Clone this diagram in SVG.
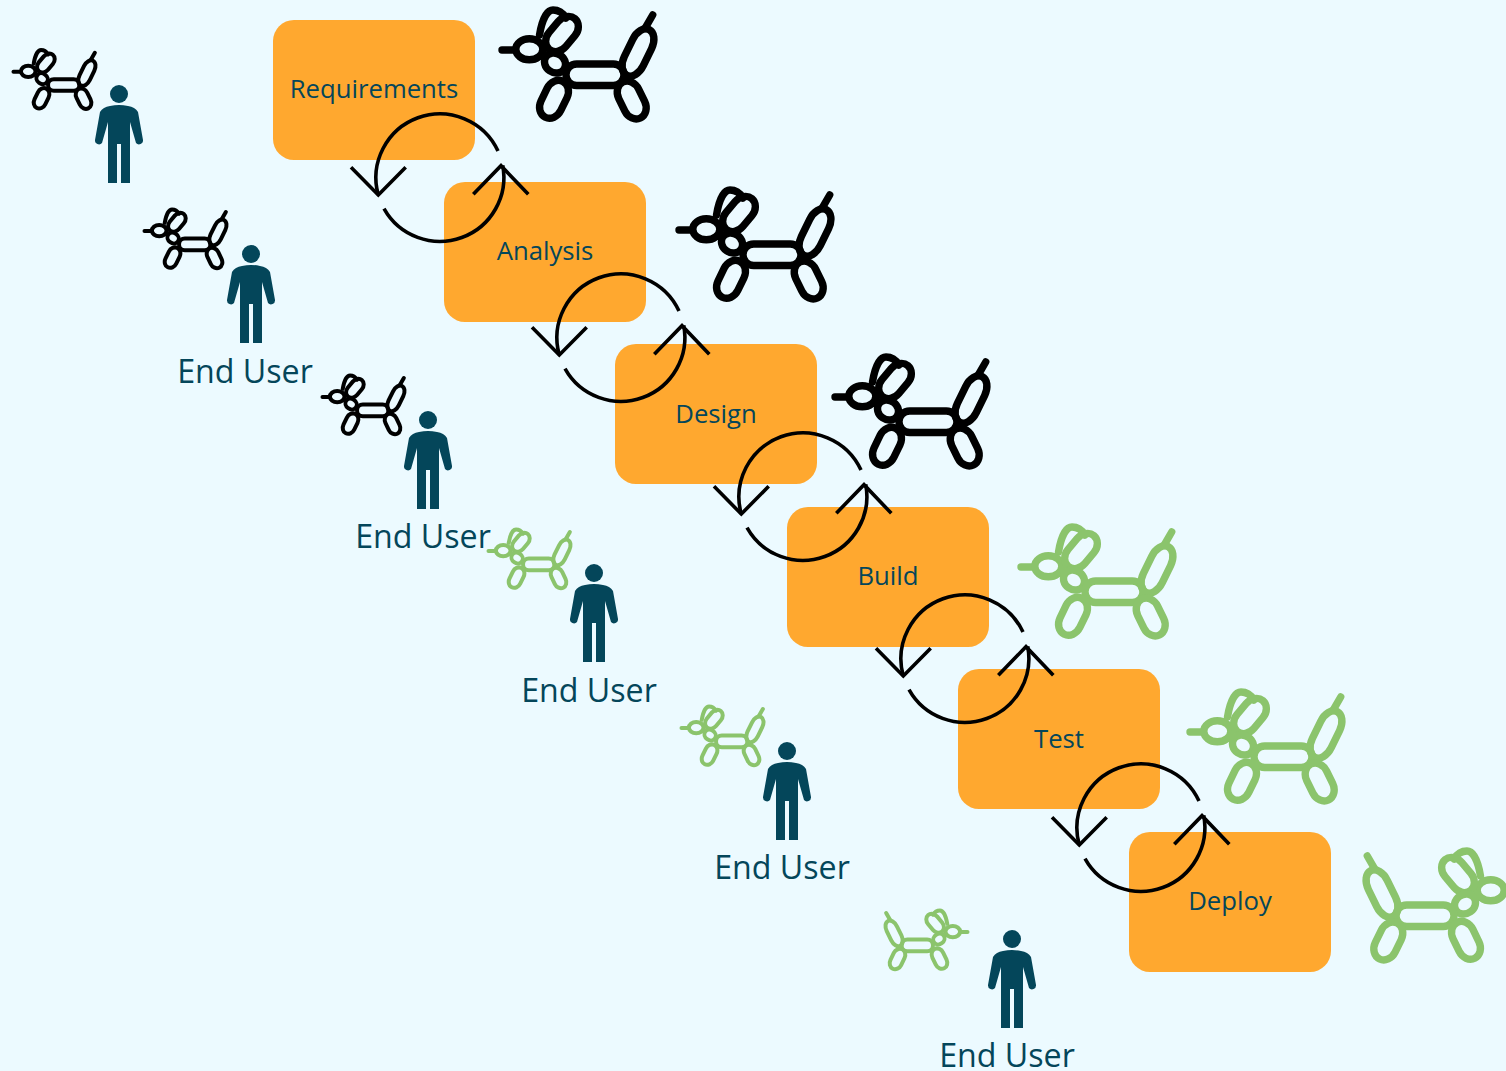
<svg xmlns="http://www.w3.org/2000/svg" width="1506" height="1071" viewBox="0 0 1506 1071">
<style>
.box{fill:#ffa82f}
.t{font-family:"Open Sans","Noto Sans","Liberation Sans",sans-serif;fill:#04465a;text-anchor:middle}
.bt{font-size:25.7px}
.ut{font-size:32.2px}
.k{color:#000}
.g{color:#8bc46c}
.d *{fill:none;stroke:currentColor;stroke-width:7.4;stroke-linecap:round;stroke-linejoin:round}
.c{fill:none;stroke:#000;stroke-width:3.6}
.p{fill:#04465a}
</style>
<defs>
<g id="dog" class="d">
<path d="M12,50H24"/>
<path d="M155,28.3L162.7,15"/>
<path d="M49.5,35C52,20 57,10 63,10C68,10 73,13 76,18"/>
<ellipse cx="39.3" cy="49.3" rx="13.5" ry="10.5"/>
<rect x="-20" y="-11" width="40" height="22" rx="13" ry="11" transform="translate(72,34) rotate(-50)"/>
<ellipse cx="65" cy="63" rx="11" ry="9.5" transform="rotate(35 65 63)"/>
<rect x="76" y="64" width="58" height="21.5" rx="10.7"/>
<rect x="-25.5" y="-10.5" width="51" height="21" rx="16" ry="10.5" transform="translate(148,52.5) rotate(-64)"/>
<rect x="-20" y="-11" width="40" height="22" rx="13" ry="11" transform="translate(64,99.3) rotate(-64)"/>
<rect x="-20" y="-11" width="40" height="22" rx="13" ry="11" transform="translate(141.7,100) rotate(64)"/>
</g>
<g id="person">
<circle cx="0" cy="0" r="9"/>
<path d="M-19,18Q-16,13 -9,12Q0,10 9,12Q16,13 19,18L24,46A4,4 0 0 1 17,49L11,28V89H2V50H-2V89H-11V28L-17,49A4,4 0 0 1 -24,46Z"/>
</g>
<g id="cycle" class="c">
<path d="M58,-27A64,64 0 0 0 -61.8,16.8"/>
<path d="M-89,-10.7L-61.7,17L-34.3,-10.7"/>
<path d="M-56,30.7A64,64 0 0 0 62.7,-12.6"/>
<path d="M33.3,16.3L61,-12.3L88.3,16.3"/>
</g>
</defs>
<rect width="1506" height="1071" fill="#ecfaff"/>
<g id="node-requirements"><rect class="box" x="273" y="20" width="202" height="140" rx="21"/><text class="t bt" x="374" y="98">Requirements</text></g>
<g id="node-analysis"><rect class="box" x="444" y="182" width="202" height="140" rx="21"/><text class="t bt" x="545" y="260">Analysis</text></g>
<g id="node-design"><rect class="box" x="615" y="344" width="202" height="140" rx="21"/><text class="t bt" x="716" y="423">Design</text></g>
<g id="node-build"><rect class="box" x="787" y="507" width="202" height="140" rx="21"/><text class="t bt" x="888" y="585">Build</text></g>
<g id="node-test"><rect class="box" x="958" y="669" width="202" height="140" rx="21"/><text class="t bt" x="1059" y="748">Test</text></g>
<g id="node-deploy"><rect class="box" x="1129" y="832" width="202" height="140" rx="21"/><text class="t bt" x="1230" y="910">Deploy</text></g>
<g id="connectors">
<use href="#cycle" x="440" y="178"/>
<use href="#cycle" x="621" y="338"/>
<use href="#cycle" x="803" y="497"/>
<use href="#cycle" x="965" y="659"/>
<use href="#cycle" x="1141" y="828"/>
</g>
<g id="dogs-large">
<use class="k" href="#dog" transform="translate(490,0)"/>
<use class="k" href="#dog" transform="translate(667,180)"/>
<use class="k" href="#dog" transform="translate(823,347)"/>
<use class="g" href="#dog" transform="translate(1009,517)"/>
<use class="g" href="#dog" transform="translate(1178,682)"/>
<use class="g" href="#dog" transform="translate(1530,841) scale(-1,1)"/>
</g>
<g id="dogs-small">
<use class="k" href="#dog" transform="translate(7,44.7) scale(.54)"/>
<use class="k" href="#dog" transform="translate(138,204) scale(.54)"/>
<use class="k" href="#dog" transform="translate(316,370) scale(.54)"/>
<use class="g" href="#dog" transform="translate(482,524) scale(.54)"/>
<use class="g" href="#dog" transform="translate(675,701) scale(.54)"/>
<use class="g" href="#dog" transform="translate(974,905) scale(-.54,.54)"/>
</g>
<g id="user-1" class="p"><use href="#person" x="119" y="94"/></g>
<g id="user-2" class="p"><use href="#person" x="251" y="254"/><text class="t ut" x="245" y="383">End User</text></g>
<g id="user-3" class="p"><use href="#person" x="428" y="420"/><text class="t ut" x="423" y="548">End User</text></g>
<g id="user-4" class="p"><use href="#person" x="594" y="573"/><text class="t ut" x="589" y="702">End User</text></g>
<g id="user-5" class="p"><use href="#person" x="787" y="751"/><text class="t ut" x="782" y="879">End User</text></g>
<g id="user-6" class="p"><use href="#person" x="1012" y="939"/><text class="t ut" x="1007" y="1067">End User</text></g>
</svg>
